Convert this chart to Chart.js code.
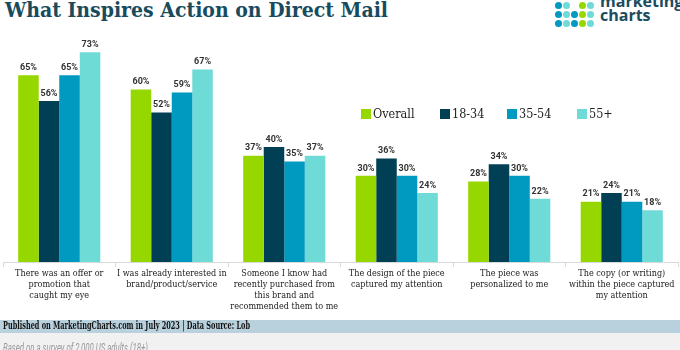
<!DOCTYPE html>
<html>
<head>
<meta charset="utf-8">
<script src="https://cdn.jsdelivr.net/npm/chart.js@4.4.1/dist/chart.umd.min.js"></script>
<style>
  body { margin: 0; width: 680px; height: 350px; overflow: hidden; background: #fff; position: relative; }
  .slab { font-family: "DejaVu Serif Condensed", "DejaVu Serif", serif; }
  #title { position: absolute; left: 5px; top: -3px; font-size: 21px; font-weight: bold; color: #174b5d; white-space: nowrap; }
  #logo { position: absolute; left: 554px; top: 0; width: 126px; height: 30px; }
  .dot { position: absolute; width: 7px; height: 7px; border-radius: 50%; }
  #logo-text { position: absolute; left: 46px; top: -6px; font-family: "Open Sans", sans-serif; font-weight: bold; font-size: 16px; line-height: 14px; color: #1b4b5e; }
  #wrap { position: absolute; left: 0; top: 0; width: 680px; height: 320px; }
  #legend { position: absolute; top: 106px; left: 0; font-size: 12.5px; color: #222; }
  .li { position: absolute; white-space: nowrap; }
  .li i { display: inline-block; width: 10px; height: 10px; margin-right: 2px; vertical-align: -1px; }
  #band { position: absolute; left: 0; top: 320px; width: 680px; height: 13px; background: #b9d0dd; }
  #band span { position: absolute; left: 3px; top: -1px; font-size: 10.5px; font-weight: bold; color: #111; white-space: nowrap; transform-origin: 0 0; }
  #note { position: absolute; left: 0; top: 333px; width: 680px; height: 17px; background: #f1f1f1; }
  #note span { position: absolute; left: 3px; top: 8px; font-family: Roboto, sans-serif; font-style: italic; font-size: 12px; color: #9a9a9a; white-space: nowrap; transform-origin: 0 0; }
</style>
</head>
<body>
<div id="title" class="slab">What Inspires Action on Direct Mail</div>
<div id="logo"><div id="logo-text">marketing<br>charts</div></div>
<div id="wrap"><canvas id="chart" width="680" height="320"></canvas></div>
<div id="legend" class="slab"></div>
<div id="band"><span id="band-text" class="slab">Published on MarketingCharts.com in July 2023 | Data Source: Lob</span></div>
<div id="note"><span id="note-text">Based on a survey of 2,000 US adults (18+)</span></div>
<script>
const categories = [
  ["There was an offer or", "promotion that", "caught my eye"],
  ["I was already interested in", "brand/product/service"],
  ["Someone I know had", "recently purchased from", "this brand and", "recommended them to me"],
  ["The design of the piece", "captured my attention"],
  ["The piece was", "personalized to me"],
  ["The copy (or writing)", "within the piece captured", "my attention"]
];
const seriesNames = ["Overall", "18-34", "35-54", "55+"];
const overall = [65, 60, 37, 30, 28, 21];
const age18to34 = [56, 52, 40, 36, 34, 24];
const age35to54 = [65, 59, 35, 30, 30, 21];
const age55plus = [73, 67, 37, 24, 22, 18];
const colors = ["#97d700", "#003f54", "#0099bf", "#6fdbd6"];
const legendX = [361, 440, 507, 577];

// squeeze footer texts to the reference widths
function fitWidth(id, target) {
  const el = document.getElementById(id);
  const w = el.getBoundingClientRect().width;
  el.style.transform = `scaleX(${target / w})`;
}
fitWidth("band-text", 247);
fitWidth("note-text", 145);

// logo dots
const dotRows = [
  ["#0099bf", "#6fdbd6", null, "#97d700", "#6fdbd6"],
  ["#0099bf", "#6fdbd6", "#0099bf", "#97d700", "#6fdbd6"],
  ["#0099bf", "#6fdbd6", "#0099bf", "#97d700", "#6fdbd6"]
];
const logo = document.getElementById("logo");
dotRows.forEach((row, r) => row.forEach((c, k) => {
  if (!c) return;
  const d = document.createElement("div");
  d.className = "dot";
  d.style.background = c;
  d.style.left = (1 + k * 8) + "px";
  d.style.top = (2 + r * 9) + "px";
  logo.appendChild(d);
}));

// legend
const legend = document.getElementById("legend");
seriesNames.forEach((name, i) => {
  const el = document.createElement("div");
  el.className = "li";
  el.style.left = legendX[i] + "px";
  el.innerHTML = `<i style="background:${colors[i]}"></i>${name}`;
  legend.appendChild(el);
});

const valueLabels = {
  id: "valueLabels",
  afterDatasetsDraw(chart) {
    const ctx = chart.ctx;
    ctx.save();
    ctx.font = "bold 9px Roboto, sans-serif";
    ctx.fillStyle = "#333";
    ctx.textAlign = "center";
    ctx.textBaseline = "bottom";
    chart.data.datasets.forEach((ds, i) => {
      chart.getDatasetMeta(i).data.forEach((bar, j) => {
        ctx.fillText(ds.data[j] + "%", bar.x, bar.y - 3);
      });
    });
    ctx.restore();
  }
};

const allSeries = [overall, age18to34, age35to54, age55plus];

new Chart(document.getElementById("chart"), {
  type: "bar",
  data: {
    labels: categories,
    datasets: allSeries.map((d, i) => ({
      label: seriesNames[i],
      data: d,
      backgroundColor: colors[i],
      barPercentage: 1,
      categoryPercentage: 0.73
    }))
  },
  options: {
    responsive: false,
    animation: false,
    layout: { padding: { left: 3, right: 2, top: 32, bottom: 0 } },
    plugins: { legend: { display: false }, tooltip: { enabled: false } },
    scales: {
      x: {
        afterFit(scale) { scale.height = 58; },
        border: { color: "#d9d9d9" },
        grid: { drawOnChartArea: false, tickLength: 5, color: "#d9d9d9" },
        ticks: {
          padding: 1,
          color: "#222",
          maxRotation: 0,
          autoSkip: false,
          font: { family: "'DejaVu Serif Condensed', 'DejaVu Serif', serif", size: 9, lineHeight: 1.22 }
        }
      },
      y: { display: false, min: 0, max: 80 }
    }
  },
  plugins: [valueLabels]
});
</script>
</body>
</html>
